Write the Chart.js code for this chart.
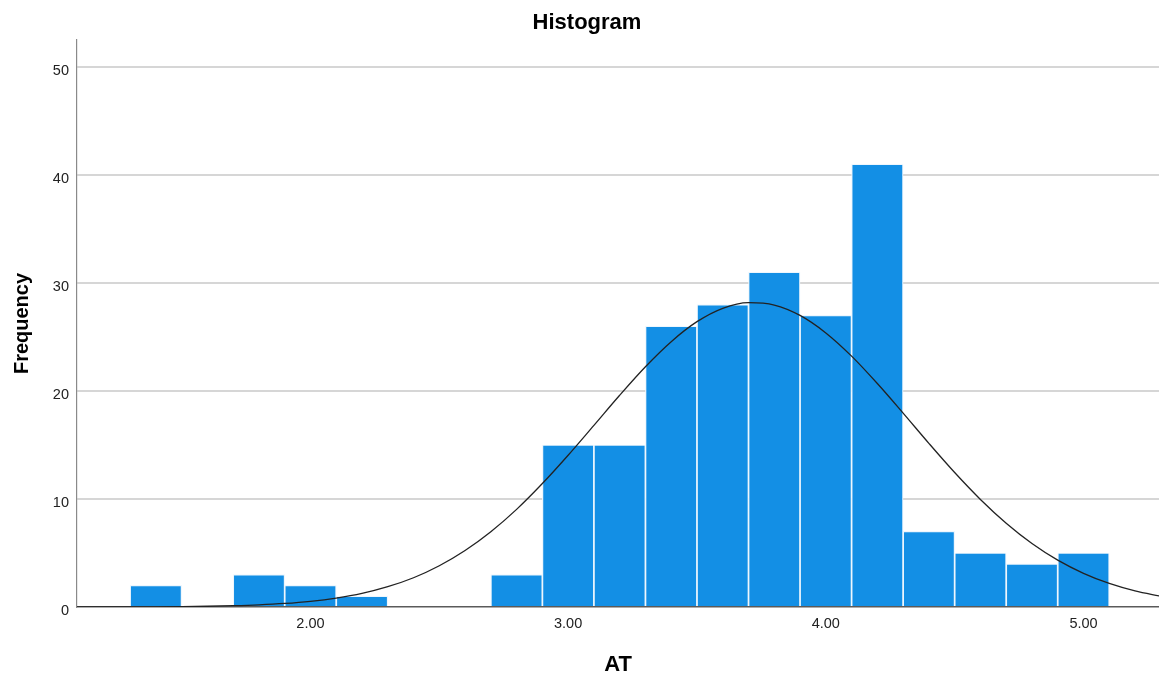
<!DOCTYPE html>
<html>
<head>
<meta charset="utf-8">
<title>Histogram</title>
<script src="https://cdn.jsdelivr.net/npm/chart.js@4/dist/chart.umd.min.js"></script>
<style>
  html, body { margin: 0; padding: 0; background: #fff; }
  #chartHist { display: block; }
</style>
</head>
<body>
<canvas id="chartHist" width="1159" height="680"></canvas>
<script>
// bins of AT (width 0.2), counts
const binStarts = [1.3, 1.5, 1.7, 1.9, 2.1, 2.3, 2.5, 2.7, 2.9, 3.1, 3.3, 3.5, 3.7, 3.9, 4.1, 4.3, 4.5, 4.7, 4.9];
const binWidth = 0.2;
const frequencies = [2, 0, 3, 2, 1, 0, 0, 3, 15, 15, 26, 28, 31, 27, 41, 7, 5, 4, 5];

// normal curve, heights
const curveX = [1.0, 1.1, 1.2, 1.3, 1.4, 1.5, 1.6, 1.7, 1.8, 1.9, 2.0, 2.1, 2.2, 2.3, 2.4, 2.5, 2.6, 2.7, 2.8, 2.9,
  3.0, 3.1, 3.2, 3.3, 3.4, 3.5, 3.6, 3.7, 3.8, 3.9, 4.0, 4.1, 4.2, 4.3, 4.4, 4.5, 4.6, 4.7, 4.8, 4.9, 5.0, 5.1, 5.2, 5.3];
const curveY = [0.00, 0.00, 0.01, 0.01, 0.02, 0.04, 0.07, 0.12, 0.20, 0.33, 0.53, 0.83, 1.26, 1.88, 2.71, 3.82, 5.23, 6.97, 9.04, 11.43,
  14.05, 16.82, 19.61, 22.25, 24.57, 26.42, 27.66, 28.18, 27.96, 27.00, 25.38, 23.23, 20.69, 17.95, 15.15, 12.45, 9.96, 7.76, 5.88, 4.34, 3.12, 2.18, 1.49, 0.99];

const xTickValues = [2, 3, 4, 5];
const xTickLabels = ['2.00', '3.00', '4.00', '5.00'];
const yTickValues = [0, 10, 20, 30, 40, 50];

const FONT = "Arial, 'Liberation Sans', sans-serif";

const titlePlugin = {
  id: 'histTitle',
  afterDraw(chart) {
    const ctx = chart.ctx;
    ctx.save();
    ctx.font = 'bold 22px ' + FONT;
    ctx.fillStyle = '#000';
    ctx.textAlign = 'center';
    ctx.textBaseline = 'alphabetic';
    ctx.fillText('Histogram', 587, 29);
    ctx.restore();
  }
};

const bars = binStarts.map((s, i) => ({ x: s + binWidth / 2, y: frequencies[i] }));
const curve = curveX.map((x, i) => ({ x, y: curveY[i] }));

new Chart(document.getElementById('chartHist').getContext('2d'), {
  type: 'bar',
  data: {
    datasets: [
      {
        type: 'line',
        label: 'Normal',
        data: curve,
        borderColor: '#222',
        borderWidth: 1.3,
        pointRadius: 0,
        cubicInterpolationMode: 'monotone',
        fill: false,
        order: 0
      },
      {
        label: 'Frequency',
        data: bars,
        backgroundColor: '#138fe5',
        borderColor: '#eef6fd',
        borderWidth: 1.2,
        barPercentage: 1,
        categoryPercentage: 1,
        order: 1
      }
    ]
  },
  options: {
    responsive: false,
    animation: false,
    layout: { padding: { top: 40, left: 0, right: 0, bottom: 0 } },
    plugins: {
      legend: { display: false },
      tooltip: { enabled: false }
    },
    scales: {
      x: {
        type: 'linear',
        offset: false,
        min: 1.094,
        max: 5.293,
        afterFit: s => { s.height = 73; },
        afterBuildTicks: s => { s.ticks = xTickValues.map(v => ({ value: v })); },
        ticks: {
          padding: 8.5,
          color: '#222',
          font: { family: FONT, size: 14.5 },
          callback: (v) => xTickLabels[xTickValues.indexOf(v)] || ''
        },
        grid: { display: false, drawTicks: false, offset: false },
        border: { display: true, color: '#5a5a5a', width: 1.5 },
        title: {
          display: true,
          text: 'AT',
          color: '#000',
          font: { family: FONT, size: 22, weight: 'bold' },
          padding: { top: 0, bottom: 2.3 }
        }
      },
      y: {
        min: 0,
        max: 52.5,
        afterFit: s => { s.width = 77; },
        afterBuildTicks: s => { s.ticks = yTickValues.map(v => ({ value: v })); },
        ticks: {
          padding: 8,
          labelOffset: 3.5,
          color: '#222',
          font: { family: FONT, size: 14.5 }
        },
        grid: {
          drawTicks: false,
          lineWidth: 2,
          color: c => (c.tick && c.tick.value === 0 ? 'rgba(0,0,0,0)' : '#d6d6d6')
        },
        border: { display: true, color: '#8a8a8a', width: 1.2 },
        title: {
          display: true,
          text: 'Frequency',
          color: '#000',
          font: { family: FONT, size: 20, weight: 'bold' },
          padding: { top: 10.5, bottom: 0 }
        }
      }
    }
  },
  plugins: [titlePlugin]
});
</script>
</body>
</html>
